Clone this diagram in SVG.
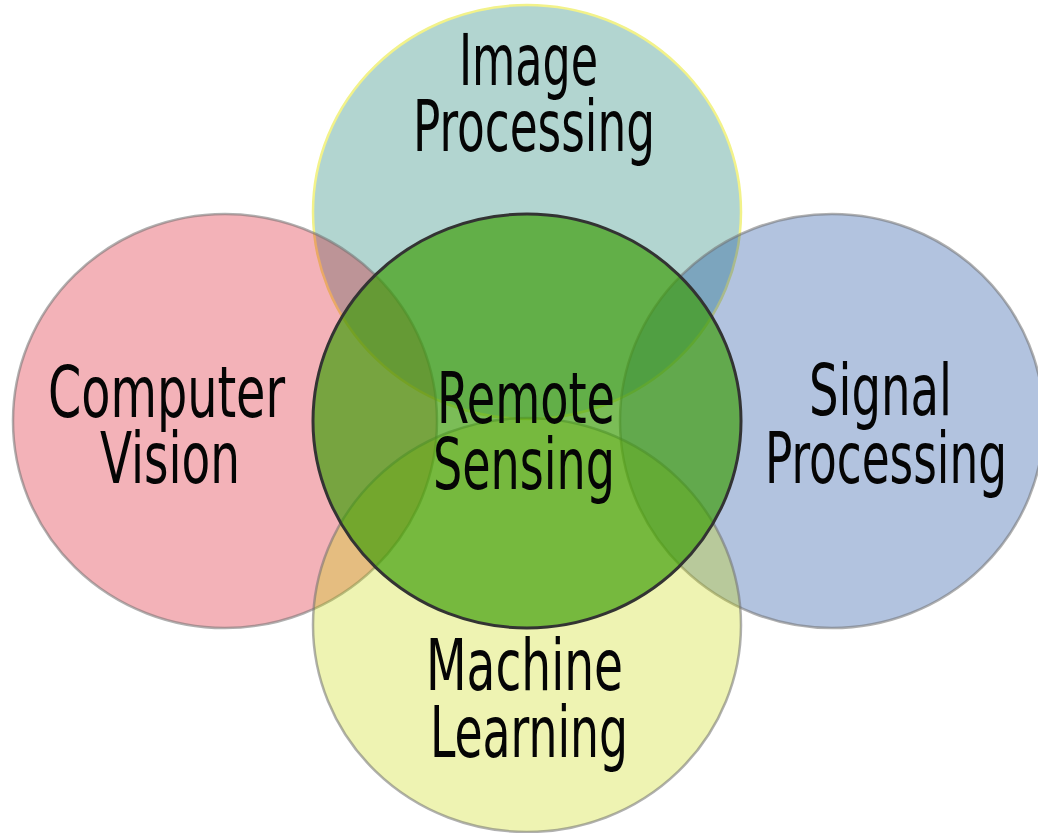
<svg xmlns="http://www.w3.org/2000/svg" width="1038" height="833" viewBox="0 0 1038 833">
  <style>
    .ring { stroke-width: 2.5; stroke-opacity: 0.55; }
    .lbl { font-family: "Ubuntu Condensed", "DejaVu Sans Condensed", "Liberation Sans Narrow", "Liberation Sans", sans-serif; font-size: 72px; fill: #050505; }
  </style>
  <rect width="1038" height="833" fill="#ffffff"/>

  <!-- outer fields, translucent so the overlaps blend -->
  <g id="image-processing">
    <ellipse cx="527" cy="212" rx="214" ry="207" fill="#007465" fill-opacity="0.3" stroke="#f2f28a" stroke-width="2.5"/>
    <text class="lbl" x="459" y="85" textLength="139" lengthAdjust="spacingAndGlyphs">Image</text>
    <text class="lbl" x="413" y="151" textLength="242" lengthAdjust="spacingAndGlyphs">Processing</text>
  </g>
  <g id="computer-vision">
    <ellipse class="ring" cx="225" cy="421" rx="212" ry="207" fill="#d80013" fill-opacity="0.3" stroke="#707070"/>
    <text class="lbl" x="48" y="417" textLength="237" lengthAdjust="spacingAndGlyphs">Computer</text>
    <text class="lbl" x="100" y="483" textLength="140" lengthAdjust="spacingAndGlyphs">Vision</text>
  </g>
  <g id="signal-processing">
    <ellipse class="ring" cx="832" cy="421" rx="212" ry="207" fill="#003894" fill-opacity="0.3" stroke="#707070"/>
    <text class="lbl" x="809" y="415" textLength="143" lengthAdjust="spacingAndGlyphs">Signal</text>
    <text class="lbl" x="765" y="483" textLength="242" lengthAdjust="spacingAndGlyphs">Processing</text>
  </g>
  <g id="machine-learning">
    <ellipse class="ring" cx="527" cy="625" rx="214" ry="207" fill="#c7d800" fill-opacity="0.3" stroke="#707070"/>
    <text class="lbl" x="426" y="690" textLength="197" lengthAdjust="spacingAndGlyphs">Machine</text>
    <text class="lbl" x="430" y="757" textLength="198" lengthAdjust="spacingAndGlyphs">Learning</text>
  </g>

  <!-- core field on top -->
  <g id="remote-sensing">
    <ellipse cx="527" cy="421" rx="214" ry="207" fill="#3a9c05" fill-opacity="0.67" stroke="#333333" stroke-width="3"/>
    <text class="lbl" x="437" y="423" textLength="178" lengthAdjust="spacingAndGlyphs">Remote</text>
    <text class="lbl" x="433" y="489" textLength="182" lengthAdjust="spacingAndGlyphs">Sensing</text>
  </g>

  <g id="connectors"/>
</svg>
